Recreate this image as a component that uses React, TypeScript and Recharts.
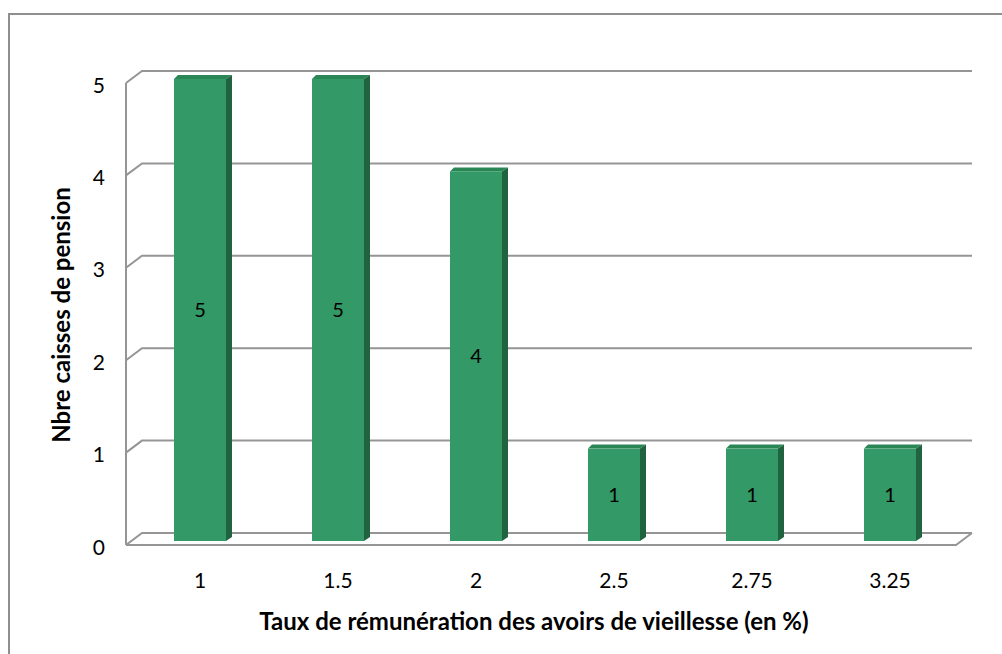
import { BarChart, Bar, XAxis, YAxis, CartesianGrid, LabelList, ReferenceArea } from "recharts";

const rates = ["1", "1.5", "2", "2.5", "2.75", "3.25"];
const caisses = [5, 5, 4, 1, 1, 1];
const yTicks = [0, 1, 2, 3, 4, 5];

const xTitle = "Taux de rémunération des avoirs de vieillesse (en %)";
const yTitle = "Nbre caisses de pension";

const FONT = "Lato, 'Open Sans', sans-serif";
const GRID = "#959595";

const data = rates.map((r, i) => ({ rate: r, value: caisses[i] }));

// bar drawn as a pseudo 3D column: front face, dark right side, top bevel
const Column = (props: any) => {
    const { x, y, width, height } = props;
    if (!height) return null;
    const d = 4, s = 6;
    return (
        <g>
            <polygon points={`${x},${y} ${x + d},${y - d} ${x + width + s},${y - d} ${x + width},${y}`} fill="#2b8656" />
            <polygon points={`${x + width},${y} ${x + width + s},${y - d} ${x + width + s},${y + height - d} ${x + width},${y + height}`} fill="#20633f" />
            <rect x={x} y={y} width={width} height={height} fill="#339966" />
        </g>
    );
};

const gridLine = (props: any) => {
    const { x1, x2, y1, index } = props;
    return (
        <polyline
            key={`g-${index}`}
            points={`${x1 - 5},${y1 + 4} ${x1 + 11},${y1 - 8} ${x2 + 13},${y1 - 8}`}
            fill="none"
            stroke={GRID}
            strokeWidth={2}
        />
    );
};

const frame = (props: any) => {
    const { x, y, width, height } = props;
    return (
        <g>
            <line x1={x - 5} y1={y + 4} x2={x - 5} y2={y + height + 4} stroke={GRID} strokeWidth={2} />
            <polyline
                points={`${x - 5},${y + height + 4} ${x + width - 3},${y + height + 4} ${x + width + 13},${y + height - 8}`}
                fill="none"
                stroke={GRID}
                strokeWidth={2}
            />
        </g>
    );
};

const XTick = ({ x, y, payload }: any) => (
    <text x={x} y={y + 36} textAnchor="middle" dominantBaseline="central" fontSize={21} fill="#000" fontFamily={FONT}>
        {payload.value}
    </text>
);

const YTick = ({ x, y, payload }: any) => (
    <text x={x - 24} y={y + 5} textAnchor="end" dominantBaseline="central" fontSize={21} fill="#000" fontFamily={FONT}>
        {payload.value}
    </text>
);

const XTitle = ({ viewBox }: any) => (
    <text
        x={viewBox.x + viewBox.width / 2 - 11}
        y={viewBox.y + 79}
        textAnchor="middle"
        dominantBaseline="central"
        fontSize={24}
        fontWeight="bold"
        fill="#000"
        fontFamily={FONT}
    >
        {xTitle}
    </text>
);

const YTitle = ({ viewBox }: any) => {
    const cx = viewBox.x + 39;
    const cy = viewBox.y + viewBox.height / 2 + 5;
    return (
        <text
            x={cx}
            y={cy}
            transform={`rotate(-90 ${cx} ${cy})`}
            textAnchor="middle"
            dominantBaseline="central"
            fontSize={24}
            fontWeight="bold"
            fill="#000"
            fontFamily={FONT}
        >
            {yTitle}
        </text>
    );
};

export default function App() {
    return (
        <div
            style={{
                position: "fixed",
                left: 8,
                top: 13,
                width: 994,
                height: 641,
                boxSizing: "border-box",
                borderTop: "2px solid #8f8f8f",
                borderLeft: "2px solid #8f8f8f",
                background: "#fff",
            }}
        >
            <BarChart
                width={992}
                height={639}
                data={data}
                margin={{ top: 64, right: 43, left: 11, bottom: 13 }}
                style={{ fontFamily: FONT }}
            >
                <CartesianGrid vertical={false} horizontal={gridLine} />
                <ReferenceArea y1={0} y2={5} shape={frame} fill="none" />
                <XAxis
                    dataKey="rate"
                    height={100}
                    axisLine={false}
                    tickLine={false}
                    tickSize={0}
                    tick={<XTick />}
                    label={{ content: <XTitle /> }}
                />
                <YAxis
                    width={110}
                    domain={[0, 5]}
                    ticks={yTicks}
                    axisLine={false}
                    tickLine={false}
                    tickSize={0}
                    tick={<YTick />}
                    label={{ content: <YTitle /> }}
                />
                <Bar dataKey="value" barSize={52} shape={<Column />} isAnimationActive={false}>
                    <LabelList dataKey="value" position="center" fontSize={20} fill="#000" fontFamily={FONT} />
                </Bar>
            </BarChart>
        </div>
    );
}
